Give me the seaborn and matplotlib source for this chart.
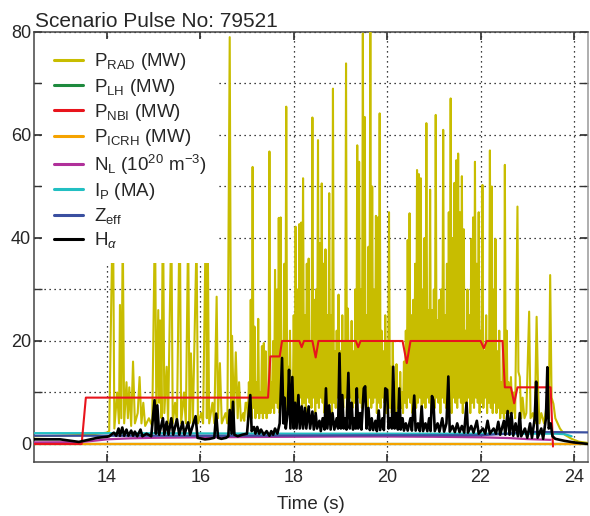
import numpy as np
import pandas as pd
import matplotlib
matplotlib.use("Agg")
import matplotlib.pyplot as plt
from matplotlib.ticker import MultipleLocator
from matplotlib.lines import Line2D
import seaborn as sns

# ---------------- data ----------------
# P_RAD, early part (separate spikes)
prad_t1 = [12.44, 13.0, 13.6, 14.0, 14.05, 14.13, 14.16, 14.22, 14.26, 14.28, 14.31, 14.34, 14.37, 14.42, 14.45,
           14.48, 14.52, 14.56, 14.6, 14.66, 14.7, 14.74, 14.78, 14.82, 14.9, 14.97, 15.03, 15.06, 15.1, 15.12,
           15.14, 15.17, 15.2, 15.23, 15.28, 15.31, 15.38, 15.41, 15.46, 15.5, 15.56, 15.59, 15.65, 15.69, 15.74,
           15.77, 15.8, 15.84, 15.92, 15.95, 16.02, 16.06, 16.12, 16.14, 16.16, 16.19, 16.26, 16.3, 16.35, 16.38,
           16.42, 16.46, 16.54, 16.58, 16.63, 16.66, 16.68, 16.72, 16.76, 16.8, 16.83, 16.87, 16.92, 16.94, 16.97]
prad_v1 = [1.5, 1.6, 1.8, 2.2, 2.5, 48, 3, 10, 4, 27, 5, 42, 4, 12, 5,
           11, 3.5, 16, 4, 6, 13, 4, 8, 3.5, 5, 3.5, 45, 5, 26, 8,
           24, 5, 50, 6, 15, 4, 44, 4, 8, 4, 47, 4, 10, 4, 42,
           4, 17.6, 4, 40, 4, 6, 4, 46, 5, 40, 4, 8, 4, 28.6, 5,
           15.7, 4, 6, 4, 79, 6, 21, 5, 17.8, 5, 12, 4.5, 6, 4.5, 8]

# P_RAD, dense ELM phase: peaks every 0.04 s from 17.00 s, troughs in between
prad_dense_start = 17.00
prad_dense_step = 0.04
prad_peaks = [8, 12, 28, 53.8, 22.8, 12, 24.3, 10, 19, 19.6,
              18, 9, 56.8, 12, 20, 33.8, 30, 43.9, 44, 20,
              35, 65.5, 15, 22, 13, 25, 42.2, 30, 42.7, 43,
              51.6, 25, 35, 36, 20, 63.4, 28, 30, 59, 39,
              50.6, 35, 37.8, 25, 48.7, 25, 69, 18, 22, 29,
              18, 25, 20, 73.9, 26.3, 20, 23.9, 18, 30, 58,
              54.8, 30, 79.7, 63.5, 25, 38.3, 82, 50, 30, 44.3,
              44, 64.2, 22, 18, 25, 20, 45, 15, 20, 12,
              15.5, 10, 14, 10, 16, 22, 39.6, 44.8, 25, 28,
              35, 53.2, 52.4, 51.6, 30, 40, 62.3, 26, 49.4, 26,
              30, 63.9, 24, 28, 30, 61, 25, 35, 45, 67.1,
              40, 50.7, 55.1, 56.4, 45, 52, 41.7, 22, 30, 25,
              39.8, 44, 54.8, 35, 45, 22, 50.3, 18, 25, 20,
              57, 50, 30, 39.8, 18, 22, 12, 20, 54.2, 22,
              12]
prad_troughs = [5, 6, 5, 7, 5, 6, 5, 6, 5, 6, 5, 6,
                6, 7, 6, 8, 7, 6, 8, 7, 6, 7, 8, 6, 7,
                7, 8, 6, 9, 7, 8, 6, 9, 8, 7, 9, 6, 8, 7, 9, 8, 6, 9, 7, 8, 6, 8, 7, 9, 6,
                8, 7, 9, 6, 8, 9, 7, 8, 6, 9, 8, 7, 9, 8, 6, 9, 7, 8, 9, 6, 8, 7, 9, 8, 6,
                8, 7, 6, 8, 6, 7, 6, 7, 6, 8, 7, 9, 8, 6, 9, 7, 8, 9, 6, 8, 7, 9, 8, 6, 8,
                7, 9, 8, 6, 9, 8, 7, 9, 8, 6, 9, 8, 7, 9, 8, 6, 8, 7, 9, 6, 8, 7, 9, 8, 6,
                8, 7, 9, 6, 8, 7, 6, 8, 6, 7, 5, 6, 5, 6, 5]

# P_RAD, late part
prad_t3 = [22.63, 22.65, 22.68, 22.71, 22.74, 22.79, 22.81, 22.84, 22.87, 22.9, 22.94, 22.98, 23.04, 23.07,
           23.12, 23.16, 23.2, 23.23, 23.26, 23.3, 23.36, 23.42, 23.46, 23.49, 23.52, 23.56, 23.6, 23.7, 23.8,
           23.95, 24.1, 24.3]
prad_v3 = [6, 13, 6, 10, 5, 46.1, 14, 13, 5, 9, 5, 6, 25.7, 5,
           6, 4, 24.7, 11, 4, 6, 4, 8, 5, 32.8, 9, 7.8, 5, 3, 1.8,
           1.0, 0.45, 0.2]

plh_t = [12.44, 24.3]
plh_v = [0.0, 0.0]

pnbi_t = [12.44, 13.46, 13.55, 17.45, 17.5, 17.7, 17.75, 18.12, 18.17, 18.22, 18.4, 18.47, 18.53, 19.33, 19.38,
          19.43, 20.33, 20.42, 20.5, 22.0, 22.07, 22.13, 22.47, 22.52, 22.65, 22.72, 22.79, 23.5, 23.55]
pnbi_v = [0.0, 0.0, 9.0, 9.0, 17.0, 17.0, 20.0, 20.0, 18.8, 20.0, 20.0, 16.8, 20.0, 20.0, 18.8,
          20.0, 20.0, 15.7, 20.0, 20.0, 18.6, 20.0, 20.0, 11.0, 11.0, 7.9, 11.0, 11.0, -0.5]

picrh_t = [12.44, 24.3]
picrh_v = [0.0, 0.0]

nl_t = [12.44, 13.4, 13.7, 14.0, 14.5, 15.0, 16.0, 17.0, 18.0, 19.0, 20.0, 21.0, 22.0, 22.6, 23.0, 23.5]
nl_v = [0.3, 0.35, 0.6, 0.9, 1.1, 1.2, 1.3, 1.35, 1.4, 1.45, 1.45, 1.4, 1.3, 1.15, 0.95, 0.8]

ip_t = [12.44, 14.0, 16.0, 18.0, 20.0, 22.0, 23.0, 23.6, 23.8, 23.95]
ip_v = [2.1, 2.1, 2.05, 2.0, 2.0, 2.0, 2.0, 2.0, 1.9, 1.5]

zeff_t = [12.44, 14.0, 16.0, 18.0, 20.0, 22.0, 22.6, 23.0, 24.3]
zeff_v = [1.6, 1.6, 1.6, 1.65, 1.7, 1.7, 2.0, 2.35, 2.25]

ha_t = [12.44, 13.0, 13.4, 13.5, 13.8, 14.0, 14.05, 14.15, 14.2, 14.25, 14.28, 14.33, 14.37, 14.42, 14.46,
        14.52, 14.56, 14.6, 14.65, 14.72, 14.76, 14.85, 14.95, 15.02, 15.05, 15.08, 15.12, 15.2, 15.23, 15.28,
        15.32, 15.38, 15.42, 15.5, 15.55, 15.62, 15.66, 15.74, 15.78, 15.9, 15.94, 16.05, 16.1, 16.2, 16.3,
        16.34, 16.38, 16.45, 16.55, 16.6, 16.63, 16.67, 16.7, 16.73, 16.8, 16.9, 17.0, 17.07, 17.1, 17.15,
        17.18, 17.22, 17.26, 17.3, 17.36, 17.42, 17.48, 17.52, 17.56, 17.6, 17.65, 17.7, 17.75, 17.78, 17.8,
        17.83, 17.87, 17.9, 17.93, 17.97, 18.0, 18.03, 18.06, 18.1, 18.13, 18.17, 18.2, 18.24, 18.27, 18.32,
        18.35, 18.4, 18.43, 18.47, 18.5, 18.55, 18.58, 18.62, 18.66, 18.69, 18.72, 18.76, 18.79, 18.83, 18.87,
        18.92, 18.95, 18.98, 19.01, 19.04, 19.07, 19.1, 19.13, 19.17, 19.2, 19.24, 19.27, 19.3, 19.33, 19.35,
        19.38, 19.42, 19.45, 19.5, 19.53, 19.56, 19.6, 19.63, 19.67, 19.7, 19.75, 19.78, 19.82, 19.85, 19.9,
        19.93, 19.96, 20.0, 20.03, 20.07, 20.1, 20.13, 20.16, 20.2, 20.23, 20.26, 20.29, 20.33, 20.36, 20.4,
        20.44, 20.5, 20.53, 20.58, 20.61, 20.66, 20.7, 20.74, 20.77, 20.82, 20.86, 20.9, 20.93, 20.96, 20.99,
        21.02, 21.08, 21.12, 21.18, 21.22, 21.27, 21.31, 21.34, 21.4, 21.45, 21.5, 21.55, 21.6, 21.65, 21.7,
        21.73, 21.8, 21.85, 21.92, 21.96, 22.05, 22.1, 22.15, 22.2, 22.28, 22.33, 22.38, 22.42, 22.5, 22.53,
        22.58, 22.62, 22.66, 22.7, 22.75, 22.8, 22.84, 22.87, 22.95, 23.0, 23.06, 23.1, 23.16, 23.19, 23.22,
        23.3, 23.34, 23.4, 23.43, 23.46, 23.5, 23.54, 23.6, 23.7, 23.8, 24.0, 24.3]
ha_v = [0.9, 0.9, 0.4, 0.6, 1.2, 1.4, 1.5, 2.2, 1.6, 3.0, 1.6, 3.2, 1.6, 2.8, 1.6,
        2.6, 1.6, 2.4, 1.5, 2.8, 1.5, 2.0, 1.5, 8.5, 2.0, 7.5, 1.8, 5.0, 1.8, 4.3,
        1.8, 5.0, 1.8, 4.8, 1.8, 4.3, 1.8, 4.2, 1.8, 5.4, 1.2, 1.0, 0.9, 1.0, 1.2,
        5.9, 1.2, 1.0, 1.2, 1.5, 6.6, 2.0, 8.2, 1.8, 1.5, 1.8, 2.0, 9.5, 2.5, 3.3,
        2.0, 3.3, 2.0, 2.8, 1.8, 2.5, 1.6, 2.5, 1.8, 3.0, 2.0, 4.0, 16.7, 4.0, 9.0,
        3.0, 6.0, 14.4, 3.0, 13.0, 3.0, 8.0, 3.0, 9.5, 3.0, 7.3, 3.0, 7.0, 3.0, 7.3,
        3.0, 6.3, 2.8, 6.0, 3.0, 4.5, 2.5, 5.0, 2.8, 10.8, 3.0, 7.5, 2.8, 6.0, 2.8,
        5.0, 3.0, 17.6, 3.0, 9.5, 3.0, 5.0, 2.8, 13.8, 3.0, 8.0, 2.8, 5.0, 3.0, 10.8,
        3.0, 6.0, 2.8, 10.8, 11.2, 3.0, 7.0, 2.7, 5.0, 2.7, 4.5, 2.5, 6.5, 2.7, 5.0,
        2.7, 10.8, 10.5, 3.0, 5.0, 3.0, 15.0, 3.0, 6.0, 2.8, 10.8, 2.8, 5.0, 2.6, 4.0,
        2.6, 5.0, 2.6, 9.4, 2.6, 4.0, 2.5, 7.3, 2.5, 4.0, 2.5, 5.0, 2.5, 9.3, 8.5,
        2.5, 4.0, 2.4, 5.0, 2.4, 4.0, 13.1, 2.4, 3.5, 2.3, 4.0, 2.3, 3.5, 2.2, 8.0,
        2.2, 3.5, 2.2, 4.5, 2.0, 3.0, 2.0, 4.5, 2.0, 3.0, 2.0, 4.3, 1.8, 4.5, 1.8,
        6.4, 1.8, 6.0, 1.6, 4.0, 1.5, 6.0, 1.5, 3.0, 1.2, 4.0, 1.2, 5.0, 12.1, 1.2,
        3.0, 1.0, 5.0, 14.9, 3.0, 4.0, 1.5, 1.0, 0.8, 0.6, 0.3, 0.0]

title_text = "Scenario Pulse No: 79521"
x_label = "Time (s)"
labels = [r"P$_{\mathrm{RAD}}$ (MW)", r"P$_{\mathrm{LH}}$ (MW)", r"P$_{\mathrm{NBI}}$ (MW)",
          r"P$_{\mathrm{ICRH}}$ (MW)", r"N$_{\mathrm{L}}$ (10$^{20}$ m$^{-3}$)", r"I$_{\mathrm{P}}$ (MA)",
          r"Z$_{\mathrm{eff}}$", r"H$_{\alpha}$"]

# assemble the P_RAD trace (typed samples, interleaved in time order)
dense_t, dense_v = [], []
for i, pk in enumerate(prad_peaks):
    dense_t.append(prad_dense_start + prad_dense_step * i)
    dense_v.append(pk)
    if i < len(prad_troughs):
        dense_t.append(prad_dense_start + prad_dense_step * i + prad_dense_step / 2)
        dense_v.append(prad_troughs[i])
prad_t = prad_t1 + dense_t + prad_t3
prad_v = prad_v1 + dense_v + prad_v3

# ---------------- style ----------------
sns.set_theme(style="ticks")
plt.rcParams["font.family"] = ["Liberation Sans", "DejaVu Sans"]
plt.rcParams["mathtext.fontset"] = "custom"
plt.rcParams["mathtext.rm"] = "Liberation Sans"
plt.rcParams["mathtext.it"] = "Liberation Sans:italic"
plt.rcParams["mathtext.bf"] = "Liberation Sans:bold"

colors = ["#c8bd00", "#1e8a3e", "#e8141c", "#f5a300", "#b0309a", "#22bfc2", "#3a4fa0", "#000000"]
widths = [1.5, 1.6, 1.5, 1.6, 1.6, 1.6, 1.6, 1.9]

fig = plt.figure(figsize=(5.9, 5.16), dpi=100)
ax = fig.add_axes([34 / 590, 1 - 462 / 516, (588 - 34) / 590, (462 - 32) / 516])

series = [(prad_t, prad_v), (plh_t, plh_v), (picrh_t, picrh_v), (nl_t, nl_v), (ip_t, ip_v),
          (zeff_t, zeff_v), (pnbi_t, pnbi_v), (ha_t, ha_v)]
idx_order = [0, 1, 3, 4, 5, 6, 2, 7]
for z, ((t, v), i) in enumerate(zip(series, idx_order)):
    df = pd.DataFrame({"t": t, "v": v})
    sns.lineplot(data=df, x="t", y="v", ax=ax, color=colors[i], linewidth=widths[i],
                 estimator=None, sort=False, zorder=3 + z)

ax.set_xlim(12.44, 24.3)
ax.set_ylim(-3.5, 80)
ax.xaxis.set_major_locator(MultipleLocator(2))
ax.yaxis.set_major_locator(MultipleLocator(20))
ax.yaxis.set_minor_locator(MultipleLocator(10))
ax.grid(True, which="major", axis="x", color="black", linestyle=(0, (1, 3)), linewidth=0.9)
ax.grid(True, which="both", axis="y", color="black", linestyle=(0, (1, 3)), linewidth=0.9)
ax.tick_params(which="both", direction="in", top=True, right=True, labelsize=13,
               color="#333333", length=6)
ax.tick_params(axis="x", pad=5)
ax.tick_params(axis="y", pad=2)
for s in ax.spines.values():
    s.set_color("#444444")
    s.set_linewidth(1.1)
ax.spines["right"].set_color("#999999")
ax.set_xlabel(x_label, fontsize=13.5, labelpad=7)
ax.set_ylabel("")

handles = [Line2D([], [], color=c, linewidth=2.2) for c in colors]
leg = ax.legend(handles, labels, loc="upper left", bbox_to_anchor=(8 / 554, 1 - 7 / 430),
                borderaxespad=0.0, frameon=True, fontsize=13.5, handlelength=1.55,
                handletextpad=0.55, labelspacing=0.23, borderpad=0.65)
leg.get_frame().set_facecolor("white")
leg.get_frame().set_edgecolor("none")
leg.get_frame().set_alpha(1.0)
leg.set_zorder(20)

fig.text(35 / 590, 1 - 27 / 516, title_text, fontsize=15, ha="left", va="baseline")

fig.savefig("out.png", dpi=100)
